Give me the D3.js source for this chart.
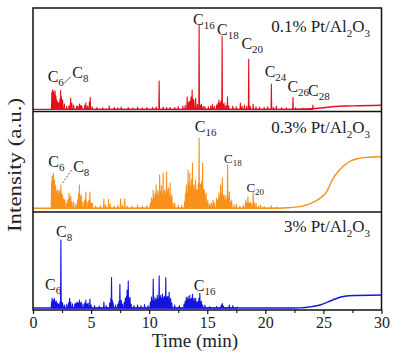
<!DOCTYPE html>
<html><head><meta charset="utf-8">
<script src="https://cdn.jsdelivr.net/npm/d3@7"></script>
<style>body{margin:0;background:#fff}svg{display:block}text{font-family:"Liberation Serif","Times New Roman",serif;fill:#222}</style>
</head><body><svg id="c" width="397" height="358"></svg>
<script>
// ---- data ----
const timeDomain = [0, 30];
const majorTicks = [0, 5, 10, 15, 20, 25, 30];
const minorTicks = [2.5, 7.5, 12.5, 17.5, 22.5, 27.5];
const xTitle = "Time (min)";
const yTitle = "Intensity (a.u.)";
const panelNames = [[["0.1% Pt/Al",0],["2",1],["O",0],["3",1]],[["0.3% Pt/Al",0],["2",1],["O",0],["3",1]],[["3% Pt/Al",0],["2",1],["O",0],["3",1]]];
const seriesColors = ["#e3101b", "#f8901c", "#1414e0"];
const baseLevels = [2.1, 3.7, 2.0];

const redBaseline = [[0,2.1],[22,2.1],[24,2.6],[25,3.6],[26,4.8],[27,5.3],[28,5.5],[30,6.0]];
const orangeBaseline = [[0,3.7],[20,3.7],[22,4.3],[23,5.3],[23.8,8],[24.7,13.6],[25.25,19.6],[25.8,32.8],[26.25,40.1],[26.66,45.1],[27.23,50],[27.8,52.7],[28.7,54.4],[30,55]];
const blueBaseline = [[0,2],[22,2],[23,2.2],[24,3.5],[24.7,5.1],[25.8,10.2],[26.5,13.3],[27.2,14.5],[30,15.3]];

const redPeaks = [[1.62,18],[1.68,20.8],[1.75,19.8],[1.82,17.9],[1.9,20],[1.97,15],[2.05,11],[2.15,9],[2.25,8.2],[2.32,12],[2.38,20.3],[2.45,14],[2.55,11],[2.7,7.2],[2.9,5],[3.1,6],[3.24,13],[3.35,8],[3.5,6.3],[3.75,5],[3.85,5.3],[4.0,7.2],[4.1,6],[4.2,5.3],[4.45,6],[4.55,8.5],[4.7,5.3],[4.85,9],[4.93,13.7],[5.1,4.5],[5.5,3.9],[6.0,3.5],[6.56,5.3],[7.0,3.9],[7.3,3.5],[7.6,4.3],[8.2,3.9],[8.6,3.6],[9.0,4.3],[9.4,3.5],[9.8,3.9],[10.3,4],[10.6,4.5],[10.86,29.5],[11.2,4.3],[11.5,3.8],[11.8,3.9],[12.2,4],[12.5,4.8],[12.9,5.3],[13.1,6],[13.27,14.3],[13.4,9],[13.5,10.1],[13.6,14],[13.7,20.8],[13.78,12],[13.85,11],[14.0,12.8],[14.15,7],[14.3,83.6],[14.4,6],[14.5,7.2],[14.65,5],[14.8,4.8],[15.1,4.5],[15.3,5.5],[15.45,6.8],[15.6,5],[15.8,6.3],[15.92,8],[16.0,11],[16.1,8.2],[16.18,10],[16.28,72.9],[16.37,7],[16.45,8.2],[16.6,6],[16.74,14.3],[16.85,5],[17.2,5.3],[17.5,4.5],[17.85,8.2],[18.0,5],[18.2,6.3],[18.4,5],[18.57,50.4],[18.7,5],[18.95,7.2],[19.2,4.5],[19.5,4.3],[19.9,4],[20.2,4.5],[20.52,26.6],[20.7,4],[20.95,5.3],[21.4,3.8],[21.8,3.6],[22.38,13.7],[22.6,3.5],[23.2,3.3],[24.1,6.3]];
const orangePeaks = [[1.6,30],[1.65,35.8],[1.7,33],[1.75,38.5],[1.8,30],[1.85,31.8],[1.9,27],[1.95,25.9],[2.02,20],[2.1,21.9],[2.18,18],[2.25,21.9],[2.32,20],[2.4,26.9],[2.47,18],[2.55,16.9],[2.65,13],[2.75,11.9],[2.9,9],[3.0,12],[3.1,18.9],[3.18,14],[3.25,15.9],[3.35,10],[3.5,10],[3.7,8],[3.85,11.9],[3.92,18],[4.0,26.9],[4.08,15],[4.15,16.9],[4.3,10],[4.45,12],[4.55,19.9],[4.65,10],[4.8,12],[4.9,19.9],[5.0,9],[5.1,9],[5.4,6],[5.8,6.5],[6.1,12.9],[6.25,7],[6.5,12.4],[6.65,8],[7.0,6],[7.3,6.5],[7.54,12.9],[7.7,7],[7.9,12.9],[8.1,6],[8.5,6],[9.0,7],[9.4,6],[9.8,6.5],[10.1,9],[10.2,14],[10.28,12],[10.35,21.9],[10.42,14],[10.5,18],[10.6,26.9],[10.68,18],[10.75,21],[10.82,16],[10.9,36.8],[10.97,20],[11.05,26],[11.12,18],[11.2,38.8],[11.28,20],[11.35,22],[11.42,17],[11.5,40.1],[11.58,20],[11.65,24],[11.72,16],[11.8,28.9],[11.88,14],[11.95,17],[12.05,9],[12.2,9],[12.5,7],[12.8,6.5],[13.05,10],[13.12,18],[13.2,26.9],[13.28,20],[13.35,41.8],[13.42,28],[13.5,38.8],[13.57,25],[13.65,32],[13.73,48.5],[13.8,25],[13.87,27],[13.94,22],[14.0,31.8],[14.08,22],[14.15,22],[14.22,28],[14.3,73.3],[14.37,28],[14.45,27],[14.52,30],[14.6,48.5],[14.67,22],[14.75,22],[14.82,16],[14.9,18.9],[14.98,10],[15.05,12],[15.2,8],[15.35,9],[15.5,11.9],[15.62,9],[15.8,13.9],[15.9,12],[16.0,18.9],[16.08,15],[16.15,26.9],[16.22,18],[16.3,33.8],[16.38,16],[16.45,17],[16.52,12],[16.6,16],[16.68,12],[16.75,46.8],[16.82,14],[16.9,20],[17.0,10],[17.1,12],[17.3,7],[17.5,8],[17.8,6],[18.1,7],[18.3,11.9],[18.4,9],[18.5,15.2],[18.6,9],[18.7,10],[18.8,8],[18.95,19.6],[19.05,9],[19.2,9],[19.4,6],[19.6,7],[19.9,5.5],[20.5,6.5],[21.0,5]];
const bluePeaks = [[1.6,8],[1.65,12.2],[1.7,10],[1.75,10.2],[1.8,9],[1.85,11.7],[1.92,8],[2.0,9.2],[2.1,7],[2.2,6],[2.32,8],[2.4,71.4],[2.48,8],[2.55,7],[2.7,5],[2.9,5.5],[3.05,7],[3.15,11.9],[3.25,8],[3.4,6],[3.6,6],[3.7,7],[3.8,8.2],[3.9,7],[4.0,10.2],[4.08,7],[4.15,8],[4.3,6],[4.45,7],[4.55,10.2],[4.65,6],[4.75,7],[4.9,11.2],[5.0,5],[5.3,4.5],[5.7,4],[6.1,8.2],[6.3,4.5],[6.6,7],[6.7,12],[6.76,33],[6.83,10],[6.9,7],[7.1,5],[7.3,6],[7.4,9],[7.48,26.2],[7.55,9],[7.6,10],[7.7,6],[7.85,8],[7.95,12.2],[8.05,14],[8.1,20.4],[8.15,16],[8.2,29.6],[8.27,12],[8.35,13],[8.45,6],[8.7,4.5],[9.0,5],[9.3,4.5],[9.6,5.5],[9.9,4.5],[10.1,8],[10.2,13.3],[10.28,10],[10.35,31.6],[10.42,9],[10.5,13],[10.6,11],[10.7,15],[10.78,12],[10.86,35],[10.93,13],[11.0,15],[11.08,12],[11.15,16.3],[11.22,12],[11.3,14],[11.36,13],[11.43,33],[11.5,13],[11.6,14],[11.65,12],[11.72,18.1],[11.8,10],[11.85,12],[11.95,7],[12.2,5],[12.6,4.5],[13.0,6],[13.1,9],[13.2,13],[13.28,11],[13.35,13.6],[13.42,11],[13.5,15],[13.57,11],[13.65,12],[13.73,16],[13.8,11],[13.87,12],[13.95,9],[14.0,12],[14.1,8],[14.2,9],[14.28,12],[14.36,17],[14.43,8],[14.5,9],[14.6,5],[14.8,5],[15.2,3.5],[15.8,3.5],[16.2,5],[16.3,6.6],[16.4,4],[16.9,5.1],[17.2,4.5],[17.6,3]];

// peak labels: [main, subscript, time, intensity]
const redLabels = [["C","6",1.26,28.5],["C","8",3.38,32.4],["C","16",13.78,83.6],["C","18",15.84,73.9],["C","20",17.94,60.4],["C","24",19.94,33.3],["C","26",21.9,18.8],["C","28",23.67,15]];
const orangeLabels = [["C","6",1.32,44.8],["C","8",3.46,39.8],["C","16",13.93,79.6],["C","18",16.44,48.8],["C","20",18.37,19.9]];
const blueLabels = [["C","6",1.03,20.4],["C","8",1.98,74.5],["C","16",13.84,19.4]];
// leader lines: [t1, v1, t2, v2]
const redLeaders = [[2.69,27.2,3.24,33.6]];
const orangeLeaders = [[3.33,41.8,2.47,27.6]];
const blueLeaders = [];

// ---- layout ----
const L = 33, R = 381.5;
const bands = [[8,111.5],[111.5,212],[212,310]];
const svg = d3.select("#c");
const x = d3.scaleLinear(timeDomain, [L, R]);

const allBaselines = [redBaseline, orangeBaseline, blueBaseline];
const allPeaks = [redPeaks, orangePeaks, bluePeaks];
const allLabels = [redLabels, orangeLabels, blueLabels];
const allLeaders = [redLeaders, orangeLeaders, blueLeaders];
const labelSizes = [[16,11],[16,11],[16,11]];
const smallLabelIdx = {1:[3,4]};

bands.forEach((b, i) => {
  const y = d3.scaleLinear([0, 100], [b[1], b[0]]);
  const g = svg.append("g");
  const col = seriesColors[i];
  // baseline
  g.append("path").datum(allBaselines[i])
    .attr("d", d3.line().x(d => x(d[0])).y(d => y(d[1])).curve(d3.curveMonotoneX))
    .attr("fill","none").attr("stroke",col).attr("stroke-width",1.4);
  // peaks
  const w = 0.03, base = baseLevels[i];
  const pts = [];
  allPeaks[i].forEach(p => { pts.push([p[0]-w, base]); pts.push([p[0], p[1]]); pts.push([p[0]+w, base]); });
  g.append("path").datum(pts)
    .attr("d", d3.line().x(d => x(d[0])).y(d => y(d[1])))
    .attr("fill","none").attr("stroke",col).attr("stroke-width",1.1).attr("stroke-linejoin","round");
  // labels
  allLabels[i].forEach((lb, k) => {
    const small = (smallLabelIdx[i] || []).includes(k);
    const fs = small ? 13 : 16, ss = small ? 9 : 11;
    const t = g.append("text").attr("x", x(lb[2])).attr("y", y(lb[3])).attr("font-size", fs);
    t.append("tspan").text(lb[0]);
    t.append("tspan").attr("font-size", ss).attr("dy", small ? 3 : 4).text(lb[1]);
  });
  allLeaders[i].forEach(ld => {
    g.append("line").attr("x1",x(ld[0])).attr("y1",y(ld[1])).attr("x2",x(ld[2])).attr("y2",y(ld[3]))
      .attr("stroke","#333").attr("stroke-width",0.8).attr("stroke-dasharray", i===1 ? "2,1.5" : null);
  });
  // panel name
  const nameY = [32, 133, 232][i];
  const nt = svg.append("text").attr("x", 370).attr("y", nameY).attr("text-anchor","end").attr("font-size",17);
  let shift = 0;
  panelNames[i].forEach(pt => {
    const dy = pt[1] ? 5 - shift : -shift;
    shift = pt[1] ? 5 : 0;
    nt.append("tspan").attr("dy", dy).attr("font-size", pt[1] ? 11 : 17).text(pt[0]);
  });
});

// frame and separators
svg.append("rect").attr("x",L).attr("y",bands[0][0]).attr("width",R-L).attr("height",bands[2][1]-bands[0][0])
  .attr("fill","none").attr("stroke","#111").attr("stroke-width",1.5);
[bands[0][1], bands[1][1]].forEach(yy => svg.append("line").attr("x1",L).attr("x2",R).attr("y1",yy).attr("y2",yy).attr("stroke","#111").attr("stroke-width",1.5));

// x axis
const ax = svg.append("g").attr("transform",`translate(0,${bands[2][1]})`)
  .call(d3.axisBottom(x).tickValues(majorTicks).tickSize(4).tickPadding(3).tickFormat(d3.format("d")));
ax.select(".domain").remove();
ax.selectAll("line").attr("stroke","#111").attr("stroke-width",1.2);
ax.selectAll("text").attr("font-size",16).attr("font-family","Liberation Serif").attr("fill","#222");
const axm = svg.append("g").attr("transform",`translate(0,${bands[2][1]})`)
  .call(d3.axisBottom(x).tickValues(minorTicks).tickSize(3).tickFormat(""));
axm.select(".domain").remove();
axm.selectAll("line").attr("stroke","#111").attr("stroke-width",1.1);

svg.append("text").attr("x",195).attr("y",347).attr("text-anchor","middle").attr("font-size",19).text(xTitle);
svg.append("text").attr("transform","translate(21,165) rotate(-90)").attr("text-anchor","middle")
  .attr("font-size",19).attr("textLength",134).attr("lengthAdjust","spacingAndGlyphs").text(yTitle);
</script></body></html>
